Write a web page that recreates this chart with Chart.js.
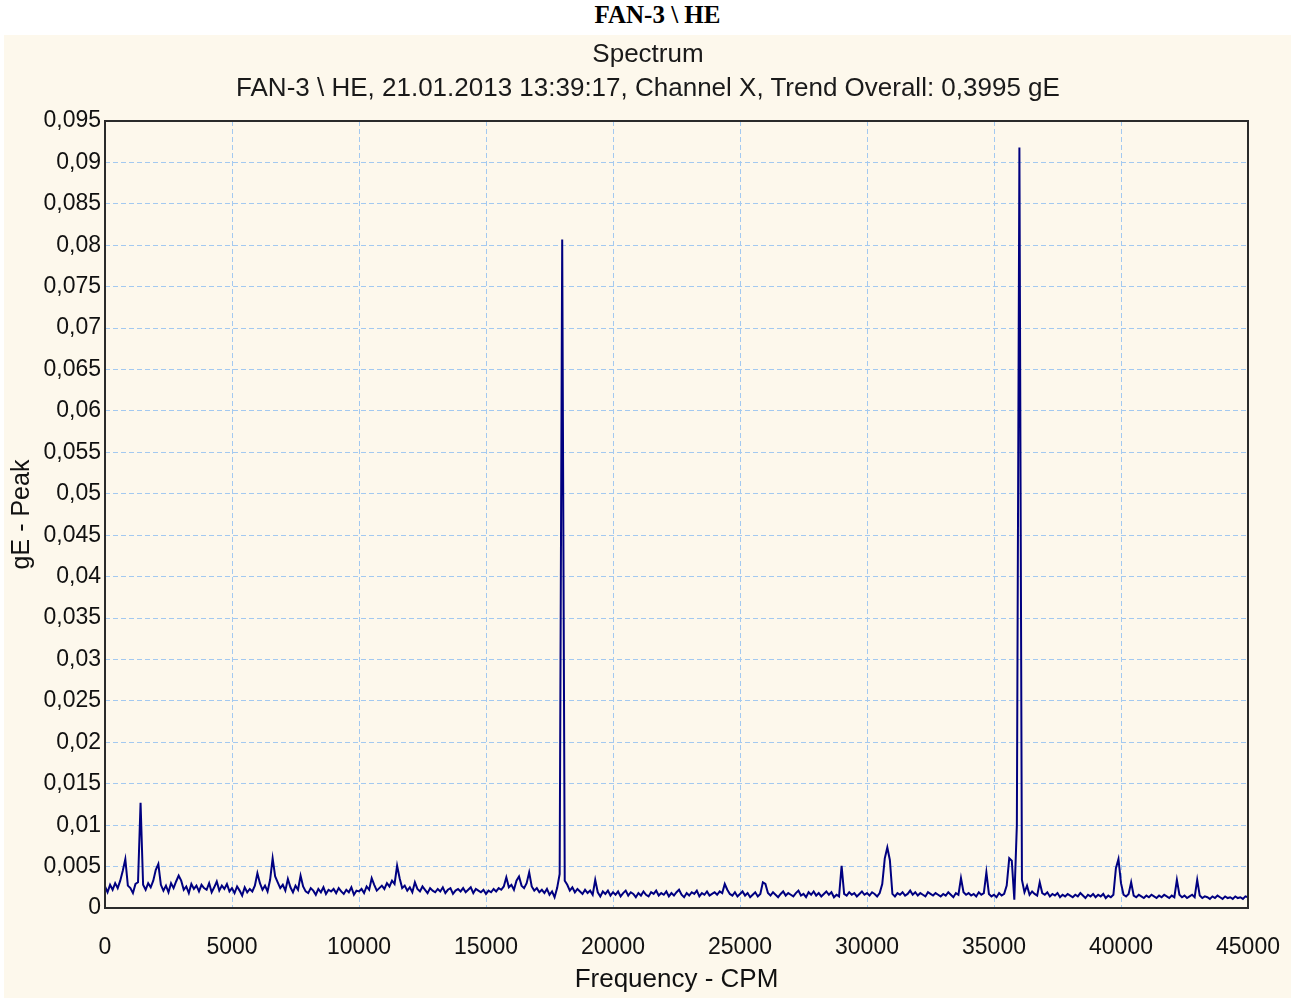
<!DOCTYPE html>
<html>
<head>
<meta charset="utf-8">
<script src="https://cdn.jsdelivr.net/npm/chart.js@4/dist/chart.umd.min.js"></script>
<style>
  html, body { margin: 0; padding: 0; background: #ffffff; width: 1300px; height: 998px; overflow: hidden; }
  #outerTitle { position: absolute; left: 15px; width: 1285px; top: 1px; height: 30px; line-height: 30px;
    text-align: center; font: bold 25px "Liberation Serif", "Times New Roman", serif; color: #000; }
  #panel { position: absolute; left: 4px; top: 35px; width: 1287px; height: 963px; background: #fdf8ec; }
  .ttl { position: absolute; left: 0; width: 1288px; height: 30px; line-height: 30px; text-align: center;
    font: 26px "Liberation Sans", Arial, sans-serif; color: #1a1a1a; }
  canvas { position: absolute; left: 0; top: 0; }
</style>
</head>
<body>
<div id="outerTitle">FAN-3 \ HE</div>
<div id="panel">
  <canvas id="c" width="1287" height="963"></canvas>
  <div class="ttl" style="top:3px">Spectrum</div>
  <div class="ttl" style="top:37px">FAN-3 \ HE, 21.01.2013 13:39:17, Channel X, Trend Overall: 0,3995 gE</div>
</div>
<script>
// Spectrum line resolution (CPM per line)
const freqStepCPM = 100;

// Amplitudes in gE - Peak, one value per spectral line (0, 100, 200 ... 45000 CPM)
const amplitudes = [
  0.0026, 0.0019, 0.0028, 0.0022, 0.0030, 0.0024, 0.0033, 0.0045, 0.0059, 0.0027,
  0.0024, 0.0018, 0.0029, 0.0031, 0.0127, 0.0028, 0.0022, 0.0030, 0.0025, 0.0033,
  0.0046, 0.0053, 0.0028, 0.0021, 0.0027, 0.0019, 0.0030, 0.0024, 0.0032, 0.0039,
  0.0033, 0.0022, 0.0026, 0.0018, 0.0029, 0.0023, 0.0027, 0.0020, 0.0028, 0.0024,
  0.0022, 0.0030, 0.0019, 0.0025, 0.0032, 0.0021, 0.0027, 0.0023, 0.0029, 0.0020,
  0.0024, 0.0018, 0.0026, 0.0021, 0.0015, 0.0025, 0.0019, 0.0023, 0.0020, 0.0027,
  0.0042, 0.0030, 0.0022, 0.0027, 0.0020, 0.0034, 0.0060, 0.0038, 0.0031, 0.0024,
  0.0028, 0.0021, 0.0035, 0.0025, 0.0019, 0.0027, 0.0022, 0.0039, 0.0026, 0.0020,
  0.0018, 0.0024, 0.0021, 0.0016, 0.0023, 0.0019, 0.0025, 0.0017, 0.0022, 0.0020,
  0.0023, 0.0018, 0.0024, 0.0020, 0.0017, 0.0022, 0.0019, 0.0025, 0.0016, 0.0021,
  0.0020, 0.0023, 0.0018, 0.0026, 0.0022, 0.0036, 0.0028, 0.0021, 0.0024, 0.0027,
  0.0023, 0.0030, 0.0026, 0.0033, 0.0029, 0.0051, 0.0036, 0.0024, 0.0027, 0.0021,
  0.0025, 0.0019, 0.0031, 0.0023, 0.0020, 0.0026, 0.0022, 0.0018, 0.0024, 0.0021,
  0.0019, 0.0023, 0.0020, 0.0025, 0.0018, 0.0022, 0.0024, 0.0017, 0.0021, 0.0023,
  0.0020, 0.0024, 0.0019, 0.0022, 0.0025, 0.0018, 0.0023, 0.0021, 0.0019, 0.0022,
  0.0017, 0.0021, 0.0019, 0.0023, 0.0020, 0.0024, 0.0022, 0.0026, 0.0037, 0.0025,
  0.0028, 0.0022, 0.0033, 0.0038, 0.0027, 0.0024, 0.0030, 0.0043, 0.0026, 0.0021,
  0.0024, 0.0019, 0.0022, 0.0018, 0.0023, 0.0016, 0.0020, 0.0013, 0.0024, 0.0041,
  0.0807, 0.0033, 0.0028, 0.0021, 0.0025, 0.0019, 0.0023, 0.0020, 0.0017, 0.0022,
  0.0018, 0.0021, 0.0016, 0.0034, 0.0019, 0.0014, 0.0020, 0.0017, 0.0021, 0.0015,
  0.0019, 0.0016, 0.0020, 0.0014, 0.0018, 0.0021, 0.0015, 0.0019, 0.0017, 0.0013,
  0.0018, 0.0015, 0.0020, 0.0016, 0.0014, 0.0019, 0.0017, 0.0021, 0.0015, 0.0018,
  0.0016, 0.0020, 0.0014, 0.0018, 0.0015, 0.0019, 0.0022, 0.0016, 0.0013, 0.0018,
  0.0015, 0.0019, 0.0017, 0.0021, 0.0014, 0.0018, 0.0016, 0.0020, 0.0015, 0.0017,
  0.0019, 0.0016, 0.0020, 0.0018, 0.0029, 0.0022, 0.0017, 0.0015, 0.0019, 0.0014,
  0.0017, 0.0020, 0.0015, 0.0018, 0.0013, 0.0016, 0.0019, 0.0014, 0.0017, 0.0031,
  0.0029, 0.0018, 0.0015, 0.0019, 0.0016, 0.0013, 0.0017, 0.0020, 0.0015, 0.0018,
  0.0016, 0.0014, 0.0018, 0.0021, 0.0015, 0.0017, 0.0013, 0.0019, 0.0016, 0.0020,
  0.0015, 0.0018, 0.0014, 0.0017, 0.0020, 0.0016, 0.0019, 0.0013, 0.0016, 0.0014,
  0.0051, 0.0017, 0.0015, 0.0019, 0.0016, 0.0018, 0.0014, 0.0017, 0.0020, 0.0016,
  0.0018, 0.0015, 0.0019, 0.0017, 0.0014, 0.0018, 0.0029, 0.0060, 0.0073, 0.0058,
  0.0017, 0.0014, 0.0018, 0.0016, 0.0019, 0.0015, 0.0017, 0.0021, 0.0016, 0.0019,
  0.0015, 0.0018, 0.0016, 0.0014, 0.0019, 0.0017, 0.0015, 0.0018, 0.0016, 0.0014,
  0.0017, 0.0015, 0.0019, 0.0016, 0.0013, 0.0018, 0.0016, 0.0036, 0.0019, 0.0016,
  0.0018, 0.0015, 0.0017, 0.0014, 0.0019, 0.0016, 0.0018, 0.0043, 0.0017, 0.0014,
  0.0016, 0.0013, 0.0018, 0.0015, 0.0017, 0.0027, 0.0060, 0.0057, 0.0010, 0.0100,
  0.0918, 0.0034, 0.0019, 0.0027, 0.0016, 0.0020, 0.0017, 0.0015, 0.0031, 0.0018,
  0.0016, 0.0019, 0.0014, 0.0017, 0.0015, 0.0018, 0.0013, 0.0016, 0.0014, 0.0017,
  0.0015, 0.0013, 0.0016, 0.0014, 0.0018, 0.0015, 0.0012, 0.0016, 0.0014, 0.0017,
  0.0013, 0.0016, 0.0014, 0.0017, 0.0012, 0.0015, 0.0013, 0.0016, 0.0048, 0.0059,
  0.0030, 0.0016, 0.0014, 0.0017, 0.0031, 0.0015, 0.0013, 0.0016, 0.0014, 0.0012,
  0.0015, 0.0013, 0.0016, 0.0014, 0.0012, 0.0015, 0.0013, 0.0016, 0.0014, 0.0012,
  0.0015, 0.0013, 0.0034, 0.0016, 0.0013, 0.0015, 0.0012, 0.0014, 0.0016, 0.0013,
  0.0034, 0.0015, 0.0012, 0.0014, 0.0013, 0.0011, 0.0014, 0.0012, 0.0015, 0.0013,
  0.0011, 0.0014, 0.0012, 0.0013, 0.0011, 0.0014, 0.0012, 0.0013, 0.0011, 0.0014,
  0.0013
];

// Frequency (CPM) of each spectral line
const frequencies = amplitudes.map((_, i) => i * freqStepCPM);

// Axis ranges / tick steps
const xRange = [0, 45000];
const xTickStep = 5000;
const yRange = [0, 0.095];
const yTickStep = 0.005;

const points = frequencies.map((f, i) => ({ x: f, y: amplitudes[i] }));

const frameBorder = {
  id: 'frameBorder',
  afterDatasetsDraw(chart) {
    const { ctx, chartArea: a } = chart;
    ctx.save();
    ctx.strokeStyle = '#2b2b2b';
    ctx.lineWidth = 2;
    ctx.strokeRect(a.left, a.top, a.right - a.left, a.bottom - a.top);
    ctx.restore();
  }
};

const tickFont = { family: '"Liberation Sans", Arial, sans-serif', size: 23 };
const titleFont = { family: '"Liberation Sans", Arial, sans-serif', size: 26 };

new Chart(document.getElementById('c'), {
  type: 'line',
  data: {
    datasets: [{
      data: points,
      borderColor: '#000080',
      borderWidth: 2,
      pointRadius: 0,
      tension: 0,
      fill: false
    }]
  },
  options: {
    responsive: false,
    animation: false,
    devicePixelRatio: 1,
    layout: { padding: { top: 86, right: 43, bottom: 0, left: 0 } },
    plugins: { legend: { display: false }, tooltip: { enabled: false }, title: { display: false } },
    scales: {
      x: {
        type: 'linear',
        min: xRange[0], max: xRange[1],
        afterFit(s) { s.height = 90; s.paddingLeft = 0; s.paddingRight = 0; },
        grid: { color: '#a3c9f0', lineWidth: 1, drawTicks: false },
        border: { display: false, dash: [5, 3] },
        ticks: { stepSize: xTickStep, padding: 26, color: '#111', font: tickFont,
          maxRotation: 0, autoSkip: false, callback: v => String(v) },
        title: { display: true, text: 'Frequency - CPM', color: '#111', font: titleFont,
          padding: { top: 0, bottom: 3 } }
      },
      y: {
        type: 'linear',
        min: yRange[0], max: yRange[1],
        afterFit(s) { s.width = 101; s.paddingTop = 0; s.paddingBottom = 0; },
        grid: { color: '#a3c9f0', lineWidth: 1, drawTicks: false },
        border: { display: false, dash: [5, 3] },
        ticks: { stepSize: yTickStep, padding: 4, color: '#111', font: tickFont, autoSkip: false,
          callback: v => String(Math.round(v * 1000) / 1000).replace('.', ',') },
        title: { display: true, text: 'gE - Peak', color: '#111',
          font: { family: '"Liberation Sans", Arial, sans-serif', size: 25 },
          padding: { top: 3, bottom: 0 } }
      }
    }
  },
  plugins: [frameBorder]
});
</script>
</body>
</html>
